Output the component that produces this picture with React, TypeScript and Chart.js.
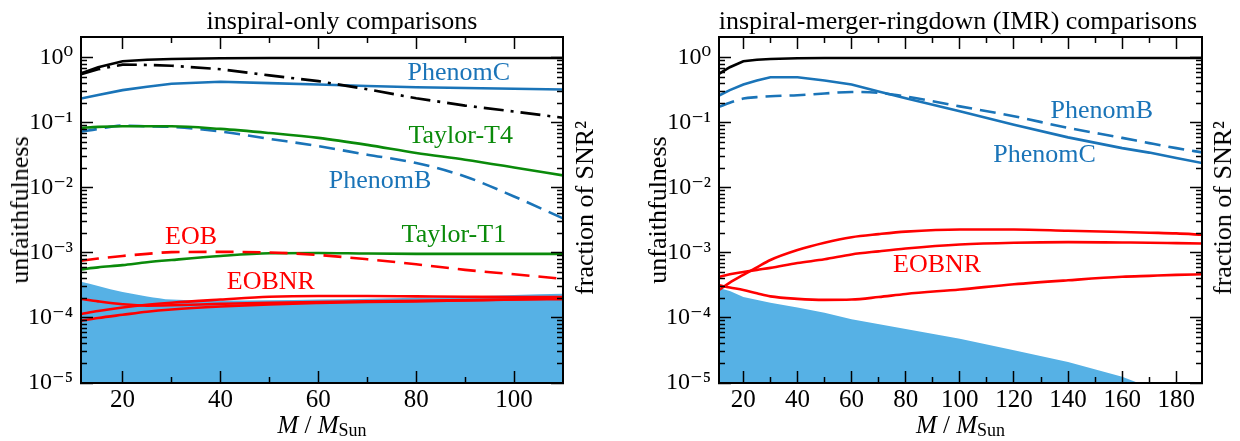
import React, { useEffect, useRef } from "react";
import { Chart, registerables } from "chart.js";

Chart.register(...registerables);

const SERIF = '"Liberation Serif", "DejaVu Serif", serif';
const BLUE = "#1A74B8";
const GREEN = "#0A8A0A";
const RED = "#FF0000";
const FILL = "#56B1E5";

// ---------------- tick values ----------------
const Y_DECADES = [1e-5, 1e-4, 1e-3, 1e-2, 1e-1, 1];
const Y_MULTS = [2, 3, 4, 5, 6, 7, 8, 9];
const Y_MINOR = Y_DECADES.flatMap((d) => Y_MULTS.map((m) => m * d)).filter((v) => v < 2);
const X_MAJOR_L = [20, 40, 60, 80, 100];
const X_MINOR_L = [30, 50, 70, 90];
const X_MAJOR_R = [20, 40, 60, 80, 100, 120, 140, 160, 180];
const X_MINOR_R = [30, 50, 70, 90, 110, 130, 150, 170];

// ---------------- left panel: inspiral-only ----------------
const MASS_L = [11.5, 15, 20, 25, 30, 40, 50, 60, 70, 80, 90, 100, 110];
const BLACK_L = [0.58, 0.72, 0.89, 0.94, 0.965, 0.99, 1, 1, 1, 1, 1, 1, 1];
const DASHDOT_L = [0.56, 0.67, 0.79, 0.78, 0.76, 0.67, 0.54, 0.44, 0.33, 0.24, 0.185, 0.15, 0.12];
const PHENOMC_L = [0.237, 0.27, 0.32, 0.36, 0.4, 0.43, 0.41, 0.39, 0.37, 0.355, 0.345, 0.335, 0.327];
const TAYLORT4_L = [0.084, 0.087, 0.089, 0.089, 0.089, 0.081, 0.07, 0.059, 0.046, 0.0345, 0.0272, 0.0207, 0.0156];
const PHENOMB_L = [0.073, 0.081, 0.091, 0.089, 0.087, 0.074, 0.057, 0.044, 0.0325, 0.0242, 0.015, 0.0074, 0.0034];
const EOB_L = [7.6e-4, 8.2e-4, 9.0e-4, 9.7e-4, 1.03e-3, 1.04e-3, 1.02e-3, 9.3e-4, 8.0e-4, 6.7e-4, 5.5e-4, 4.7e-4, 4.0e-4];
const TAYLORT1_L = [5.6e-4, 6.0e-4, 6.5e-4, 7.2e-4, 7.8e-4, 9.0e-4, 9.9e-4, 1.0e-3, 9.8e-4, 9.7e-4, 9.7e-4, 9.7e-4, 9.7e-4];
const EOBNR1_L = [1.96e-4, 1.8e-4, 1.63e-4, 1.55e-4, 1.57e-4, 1.65e-4, 1.72e-4, 1.76e-4, 1.8e-4, 1.84e-4, 1.88e-4, 1.92e-4, 1.95e-4];
const EOBNR2_L = [1.15e-4, 1.28e-4, 1.45e-4, 1.6e-4, 1.72e-4, 1.92e-4, 2.12e-4, 2.18e-4, 2.18e-4, 2.15e-4, 2.12e-4, 2.1e-4, 2.1e-4];
const EOBNR3_L = [9.1e-5, 1.0e-4, 1.12e-4, 1.25e-4, 1.35e-4, 1.5e-4, 1.62e-4, 1.7e-4, 1.76e-4, 1.8e-4, 1.86e-4, 1.92e-4, 2.0e-4];
const SNR_L = [3.6e-4, 3.1e-4, 2.5e-4, 2.15e-4, 1.92e-4, 1.85e-4, 1.87e-4, 1.92e-4, 1.98e-4, 2.05e-4, 2.15e-4, 2.25e-4, 2.35e-4];

// ---------------- right panel: IMR ----------------
const MASS_R = [11, 15, 20, 25, 30, 40, 50, 60, 70, 80, 100, 120, 140, 160, 170, 180, 190];
const BLACK_R = [0.57, 0.72, 0.89, 0.94, 0.965, 0.99, 1, 1, 1, 1, 1, 1, 1, 1, 1, 1, 1];
const PHENOMC_R = [0.264, 0.32, 0.39, 0.45, 0.506, 0.506, 0.45, 0.39, 0.305, 0.24, 0.151, 0.094, 0.06, 0.041, 0.035, 0.029, 0.024];
const PHENOMB_R = [0.177, 0.205, 0.237, 0.25, 0.258, 0.267, 0.284, 0.3, 0.29, 0.255, 0.18, 0.127, 0.084, 0.059, 0.049, 0.041, 0.035];
const EOBNR1_R = [2.7e-4, 3.5e-4, 4.6e-4, 6.0e-4, 7.8e-4, 1.11e-3, 1.44e-3, 1.75e-3, 1.95e-3, 2.13e-3, 2.3e-3, 2.3e-3, 2.2e-3, 2.1e-3, 2.05e-3, 2.0e-3, 1.9e-3];
const EOBNR2_R = [4.3e-4, 4.7e-4, 5.1e-4, 5.5e-4, 5.9e-4, 7.0e-4, 8.0e-4, 9.5e-4, 1.06e-3, 1.17e-3, 1.35e-3, 1.44e-3, 1.47e-3, 1.45e-3, 1.44e-3, 1.42e-3, 1.4e-3];
const EOBNR3_R = [3.2e-4, 2.95e-4, 2.7e-4, 2.4e-4, 2.15e-4, 1.97e-4, 1.9e-4, 1.92e-4, 2.1e-4, 2.34e-4, 2.75e-4, 3.3e-4, 3.8e-4, 4.3e-4, 4.45e-4, 4.6e-4, 4.7e-4];
const MASS_SNR_R = [11, 15, 20, 30, 40, 50, 60, 80, 100, 120, 140, 160, 166];
const SNR_R = [2.9e-4, 2.6e-4, 2.1e-4, 1.72e-4, 1.45e-4, 1.2e-4, 9.6e-5, 6.8e-5, 4.8e-5, 3.2e-5, 2.1e-5, 1.25e-5, 1.0e-5];

// ---------------- curve labels ----------------
const NOTES_L = [
  { text: "PhenomC", m: 88.7, v: 0.577, color: BLUE },
  { text: "Taylor-T4", m: 89.1, v: 0.062, color: GREEN },
  { text: "PhenomB", m: 72.6, v: 0.0125, color: BLUE },
  { text: "EOB", m: 34, v: 1.77e-3, color: RED },
  { text: "Taylor-T1", m: 87.7, v: 1.9e-3, color: GREEN },
  { text: "EOBNR", m: 50.3, v: 3.57e-4, color: RED },
];
const NOTES_R = [
  { text: "PhenomB", m: 152.5, v: 0.151, color: BLUE },
  { text: "PhenomC", m: 131.3, v: 0.0325, color: BLUE },
  { text: "EOBNR", m: 91.6, v: 6.5e-4, color: RED },
];

type Series = { x: number[]; y: number[]; color: string; dash?: number[]; fill?: boolean; smooth?: boolean };
type Note = { text: string; m: number; v: number; color: string };
type Panel = {
  xMin: number; xMax: number; xMajor: number[]; xMinor: number[];
  leftW: number; rightW: number; series: Series[]; notes: Note[];
};

const LEFT: Panel = {
  xMin: 11.5, xMax: 110, xMajor: X_MAJOR_L, xMinor: X_MINOR_L, leftW: 81, rightW: 57,
  series: [
    { x: MASS_L, y: BLACK_L, color: "#000" },
    { x: MASS_L, y: DASHDOT_L, color: "#000", dash: [20, 7, 3, 7] },
    { x: MASS_L, y: PHENOMC_L, color: BLUE },
    { x: MASS_L, y: TAYLORT4_L, color: GREEN, smooth: true },
    { x: MASS_L, y: PHENOMB_L, color: BLUE, dash: [16, 8], smooth: true },
    { x: MASS_L, y: EOB_L, color: RED, dash: [18, 9], smooth: true },
    { x: MASS_L, y: TAYLORT1_L, color: GREEN, smooth: true },
    { x: MASS_L, y: EOBNR1_L, color: RED, smooth: true },
    { x: MASS_L, y: EOBNR2_L, color: RED, smooth: true },
    { x: MASS_L, y: EOBNR3_L, color: RED, smooth: true },
    { x: MASS_L, y: SNR_L, color: FILL, fill: true, smooth: true },
  ],
  notes: NOTES_L,
};

const RIGHT: Panel = {
  xMin: 11, xMax: 189.5, xMajor: X_MAJOR_R, xMinor: X_MINOR_R, leftW: 99, rightW: 38,
  series: [
    { x: MASS_R, y: BLACK_R, color: "#000" },
    { x: MASS_R, y: PHENOMC_R, color: BLUE },
    { x: MASS_R, y: PHENOMB_R, color: BLUE, dash: [16, 8], smooth: true },
    { x: MASS_R, y: EOBNR1_R, color: RED, smooth: true },
    { x: MASS_R, y: EOBNR2_R, color: RED, smooth: true },
    { x: MASS_R, y: EOBNR3_R, color: RED, smooth: true },
    { x: MASS_SNR_R, y: SNR_R, color: FILL, fill: true },
  ],
  notes: NOTES_R,
};

const Y_MIN = 1e-5;
const Y_MAX = 2.1;
const TOP_H = 37;
const BOTTOM_H = 58;
const MAJOR_LEN = 12;
const MINOR_LEN = 6;

const SUP: Record<string, string> = {
  "0": "\u2070", "1": "\u00B9", "2": "\u00B2", "3": "\u00B3", "4": "\u2074",
  "5": "\u2075", "6": "\u2076", "7": "\u2077", "8": "\u2078", "9": "\u2079", "-": "\u207B",
};
const pow10Label = (v: number) =>
  "10" + String(Math.round(Math.log10(v))).split("").map((c) => SUP[c] || c).join("");

function axisCfg(o: {
  axis: "x" | "y"; position: string; type: string; min: number; max: number;
  weight: number; size: number; ticks: number[]; len: number; main: boolean; labels?: any;
}) {
  return {
    type: o.type,
    axis: o.axis,
    position: o.position,
    min: o.min,
    max: o.max,
    weight: o.weight,
    afterBuildTicks: (s: any) => {
      s.ticks = o.ticks.map((v) => ({ value: v }));
    },
    afterFit: (s: any) => {
      if (o.axis === "x") s.height = o.size;
      else s.width = o.size;
    },
    grid: {
      display: true,
      drawOnChartArea: false,
      drawTicks: true,
      tickLength: -o.len,
      tickColor: "#000",
      tickWidth: 1.5,
      z: 1,
    },
    border: { display: o.main, color: "#000", width: 2, z: 1 },
    ticks: o.labels ? o.labels : { display: false },
  };
}

function buildConfig(p: Panel): any {
  const xs = { type: "linear", min: p.xMin, max: p.xMax };
  const ys = { type: "logarithmic", min: Y_MIN, max: Y_MAX };
  const scales: any = {
    x: axisCfg({
      axis: "x", position: "bottom", ...xs, weight: 1, size: BOTTOM_H, ticks: p.xMajor, len: MAJOR_LEN, main: true,
      labels: {
        display: true, autoSkip: false, maxRotation: 0, color: "#000", padding: 14,
        font: { family: SERIF, size: 25 },
        callback: (v: any) => String(v),
      },
    } as any),
    xMinor: axisCfg({ axis: "x", position: "bottom", ...xs, weight: 0, size: 0, ticks: p.xMinor, len: MINOR_LEN, main: false } as any),
    x2: axisCfg({ axis: "x", position: "top", ...xs, weight: 1, size: TOP_H, ticks: p.xMajor, len: MAJOR_LEN, main: true } as any),
    x2Minor: axisCfg({ axis: "x", position: "top", ...xs, weight: 0, size: 0, ticks: p.xMinor, len: MINOR_LEN, main: false } as any),
    y: axisCfg({
      axis: "y", position: "left", ...ys, weight: 1, size: p.leftW, ticks: Y_DECADES, len: MAJOR_LEN, main: true,
      labels: {
        display: true, autoSkip: false, color: "#000", padding: 20,
        font: { family: SERIF, size: 24 },
        callback: (v: any) => pow10Label(Number(v)),
      },
    } as any),
    yMinor: axisCfg({ axis: "y", position: "left", ...ys, weight: 0, size: 0, ticks: Y_MINOR, len: MINOR_LEN, main: false } as any),
    y2: axisCfg({ axis: "y", position: "right", ...ys, weight: 1, size: p.rightW, ticks: Y_DECADES, len: MAJOR_LEN, main: true } as any),
    y2Minor: axisCfg({ axis: "y", position: "right", ...ys, weight: 0, size: 0, ticks: Y_MINOR, len: MINOR_LEN, main: false } as any),
  };

  const datasets = p.series.map((s) => ({
    type: "line",
    data: s.x.map((x, i) => ({ x, y: s.y[i] })),
    xAxisID: "x",
    yAxisID: "y",
    borderColor: s.fill ? "rgba(0,0,0,0)" : s.color,
    backgroundColor: s.color,
    borderWidth: s.fill ? 0 : 2.6,
    borderDash: s.dash || [],
    fill: s.fill ? "start" : false,
    pointRadius: 0,
    tension: 0,
    cubicInterpolationMode: s.smooth ? "monotone" : "default",
  }));

  const notesPlugin = {
    id: "curveNotes",
    afterDatasetsDraw(chart: any) {
      const ctx = chart.ctx;
      const xS = chart.scales.x;
      const yS = chart.scales.y;
      ctx.save();
      ctx.font = `26px ${SERIF}`;
      ctx.textAlign = "center";
      ctx.textBaseline = "middle";
      for (const n of p.notes) {
        ctx.fillStyle = n.color;
        ctx.fillText(n.text, xS.getPixelForValue(n.m), yS.getPixelForValue(n.v));
      }
      ctx.restore();
    },
  };

  return {
    type: "line",
    data: { datasets },
    options: {
      responsive: false,
      maintainAspectRatio: false,
      animation: false,
      events: [],
      layout: { padding: 0 },
      plugins: { legend: { display: false }, tooltip: { enabled: false }, title: { display: false } },
      scales,
    },
    plugins: [notesPlugin],
  };
}

function PanelChart({ panel, left }: { panel: Panel; left: number }) {
  const ref = useRef<HTMLCanvasElement | null>(null);
  useEffect(() => {
    if (!ref.current) return;
    const chart = new Chart(ref.current, buildConfig(panel));
    return () => chart.destroy();
  }, [panel]);
  return (
    <canvas
      ref={ref}
      width={620}
      height={441}
      style={{ position: "absolute", left, top: 0, width: 620, height: 441, display: "block" }}
    />
  );
}

const textBase: React.CSSProperties = {
  position: "absolute",
  fontFamily: SERIF,
  fontSize: 26,
  lineHeight: "26px",
  color: "#000",
  whiteSpace: "nowrap",
};

function Title({ cx, text }: { cx: number; text: string }) {
  return <div style={{ ...textBase, left: cx - 300, width: 600, top: 7.5, textAlign: "center" }}>{text}</div>;
}

function Rotated({ cx, cy, children }: { cx: number; cy: number; children: React.ReactNode }) {
  return (
    <div style={{ ...textBase, left: cx, top: cy, transform: "translate(-50%, -50%) rotate(-90deg)" }}>{children}</div>
  );
}

function MassLabel({ cx }: { cx: number }) {
  return (
    <div style={{ ...textBase, fontSize: 25, lineHeight: "25px", left: cx - 100, width: 200, top: 412, textAlign: "center" }}>
      <span style={{ fontStyle: "italic" }}>M</span> / <span style={{ fontStyle: "italic" }}>M</span>
      <span style={{ fontSize: 18, verticalAlign: "-3px" }}>Sun</span>
    </div>
  );
}

export default function App() {
  return (
    <div style={{ position: "fixed", left: 0, top: 0, width: 1240, height: 441, background: "#fff", overflow: "hidden" }}>
      <PanelChart panel={LEFT} left={0} />
      <PanelChart panel={RIGHT} left={620} />
      <Title cx={342} text="inspiral-only comparisons" />
      <Title cx={958} text="inspiral-merger-ringdown (IMR) comparisons" />
      <Rotated cx={19.5} cy={210}>unfaithfulness</Rotated>
      <Rotated cx={657.5} cy={210}>unfaithfulness</Rotated>
      <Rotated cx={584.5} cy={208}>fraction of SNR²</Rotated>
      <Rotated cx={1222.5} cy={208}>fraction of SNR²</Rotated>
      <MassLabel cx={322} />
      <MassLabel cx={960.5} />
    </div>
  );
}
